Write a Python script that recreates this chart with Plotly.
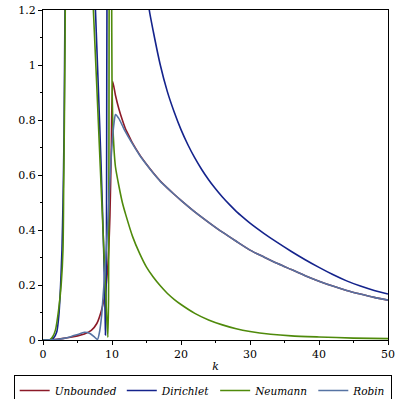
import plotly.graph_objects as go

# values
k_unbounded = [0, 1, 2, 3, 4, 5, 6, 7, 7.8, 8.5, 9.0, 9.4, 9.7, 9.9, 10.1, 10.5, 11, 11.5, 12,
               12.5, 13, 14, 15, 16, 17, 18, 19, 20, 22, 24, 26, 28, 30, 32, 34, 36, 38, 40,
               42, 44, 46, 48, 50]
y_unbounded = [0, 0.001, 0.003, 0.006, 0.01, 0.015, 0.022, 0.035, 0.06, 0.11, 0.17, 0.27, 0.45,
               0.7, 0.94, 0.89, 0.84, 0.8, 0.765, 0.74, 0.715, 0.674, 0.639, 0.607, 0.578,
               0.553, 0.53, 0.508, 0.466, 0.428, 0.392, 0.359, 0.327, 0.302, 0.278, 0.256,
               0.234, 0.214, 0.196, 0.18, 0.167, 0.155, 0.145]

k_dirichlet = [0, 1, 1.5, 2.0, 2.3, 2.55, 2.75, 2.9, 3.05, 3.2, 4, 6, 7.3, 7.6, 8.0, 8.4, 8.8,
               9.0, 9.05, 9.2, 9.3, 10, 12, 15, 15.4, 16, 17, 18, 19, 20, 21, 22, 23, 24, 25,
               26, 27, 28, 29, 30, 32, 34, 36, 38, 40, 42, 44, 46, 48, 50]
y_dirichlet = [0, 0.001, 0.006, 0.03, 0.09, 0.2, 0.33, 0.5, 0.75, 1.25, 3, 3, 1.4, 1.2, 0.93,
               0.65, 0.32, 0.1, 0.018, 0.35, 1.5, 3, 3, 1.3, 1.2, 1.12, 1.0, 0.905, 0.83, 0.765,
               0.71, 0.662, 0.62, 0.583, 0.55, 0.52, 0.493, 0.468, 0.446, 0.425, 0.388, 0.354,
               0.322, 0.292, 0.264, 0.238, 0.215, 0.196, 0.18, 0.167]

k_neumann = [0, 0.6, 1.0, 1.4, 1.8, 2.26, 2.65, 2.9, 3.0, 3.1, 3.2, 3.3, 4, 6.5, 7.1, 7.3, 7.8,
             8.3, 8.8, 9.2, 9.4, 9.5, 9.55, 9.6, 9.8, 9.95, 10.0, 10.1, 10.3, 10.5, 11, 11.5,
             12, 13, 14, 15, 16, 17, 18, 19, 20, 22, 24, 26, 28, 30, 33, 36, 40, 45, 50]
y_neumann = [0, 0, 0.001, 0.012, 0.036, 0.109, 0.207, 0.33, 0.56, 0.8, 1.1, 1.5, 3, 3, 1.32,
             1.2, 0.92, 0.63, 0.34, 0.1, 0.01, 0.15, 0.6, 1.5, 3, 1.25, 0.95, 0.8, 0.69, 0.63,
             0.56, 0.5, 0.455, 0.375, 0.315, 0.265, 0.228, 0.197, 0.17, 0.148, 0.129, 0.097,
             0.073, 0.055, 0.041, 0.031, 0.021, 0.015, 0.011, 0.007, 0.005]

k_robin = [0, 1, 2, 3, 4, 5, 6, 6.8, 7.4, 7.9, 8.2, 8.5, 8.8, 9.1, 9.4, 9.7, 10.0, 10.3, 10.5,
           11, 11.5, 12, 13, 14, 15, 16, 17, 18, 19, 20, 22, 24, 26, 28, 30, 32, 34, 36, 38,
           40, 42, 44, 46, 48, 50]
y_robin = [0, 0.0005, 0.002, 0.006, 0.012, 0.02, 0.028, 0.024, 0.012, 0.002, 0.03, 0.09, 0.19,
           0.3, 0.43, 0.58, 0.71, 0.79, 0.82, 0.805, 0.78, 0.755, 0.712, 0.672, 0.638, 0.606,
           0.577, 0.553, 0.53, 0.508, 0.466, 0.428, 0.392, 0.359, 0.327, 0.302, 0.278, 0.256,
           0.234, 0.214, 0.196, 0.18, 0.167, 0.155, 0.145]

series = [
    ("Unbounded", k_unbounded, y_unbounded, "#8C1A28"),
    ("Dirichlet", k_dirichlet, y_dirichlet, "#14238C"),
    ("Neumann", k_neumann, y_neumann, "#4F8A0B"),
    ("Robin", k_robin, y_robin, "#5673A3"),
]

fig = go.Figure()
for name, k, y, color in series:
    fig.add_trace(go.Scatter(x=k, y=y, name=name, mode="lines",
                             line=dict(color=color, width=1.6, shape="spline", smoothing=0.6)))

axis_style = dict(
    showline=True, linecolor="black", linewidth=1, mirror=True,
    showgrid=False, zeroline=False, automargin=False,
    ticks="outside", ticklen=4, tickcolor="black",
    tickfont=dict(family="DejaVu Serif", size=11, color="black"),
)

fig.update_xaxes(range=[0, 50], dtick=10,
                 minor=dict(dtick=5, ticks="outside", ticklen=2, tickcolor="black"),
                 title=dict(text="<i>k</i>", font=dict(family="DejaVu Serif", size=11, color="black"),
                            standoff=2),
                 **axis_style)
fig.update_yaxes(range=[0, 1.2], dtick=0.2, tickformat="~g",
                 minor=dict(dtick=0.1, ticks="outside", ticklen=2, tickcolor="black"),
                 **axis_style)

# legend anchored left of the plot area so it may use the full width in one row
fig.update_layout(
    width=399, height=399,
    margin=dict(l=43, r=11, t=10, b=59, autoexpand=False),
    plot_bgcolor="white", paper_bgcolor="white",
    legend=dict(orientation="h",
                x=-0.085, xanchor="left", y=-0.106, yanchor="top",
                bordercolor="black", borderwidth=1,
                font=dict(family="DejaVu Serif", size=10.5, color="black", style="italic"),
                tracegroupgap=0, itemwidth=30),
)

# drop the default 8px body margin so the figure sits at the page corner
fig.write_html("out.html", config={"displayModeBar": False},
               post_script="document.body.style.margin = '0px';")
